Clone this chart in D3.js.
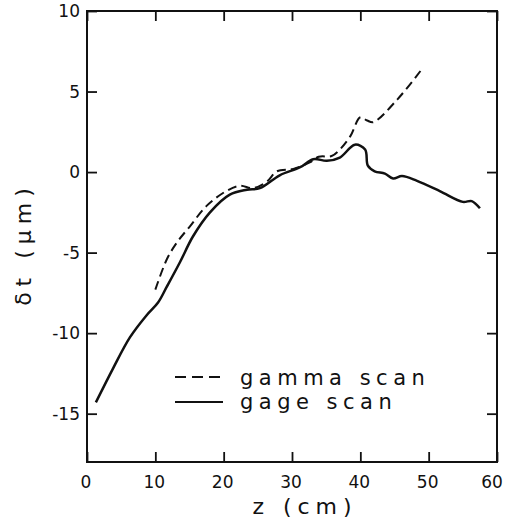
<!DOCTYPE html>
<html>
<head>
<meta charset="utf-8">
<script src="https://cdn.jsdelivr.net/npm/d3@7"></script>
<style>
body{margin:0;background:#fff;}
svg{display:block;}
.tick-label{font-family:"DejaVu Sans",sans-serif;font-size:17px;fill:#111;}
.axis-title{font-family:"DejaVu Sans",sans-serif;font-size:22px;fill:#111;letter-spacing:6px;}
.legend-text{font-family:"DejaVu Sans",sans-serif;font-size:21px;fill:#111;letter-spacing:5.5px;}
</style>
</head>
<body>
<div id="chart"></div>
<script>
// gage scan (solid)
var gageZ = [1.3,3.8,6.3,8.7,10.4,11.7,13.6,15.5,18.0,20.9,23.4,25.3,28.2,31.2,33.1,35.1,37.0,39.2,40.7,41.1,42.1,43.6,44.8,46.1,48.3,51.7,55.0,56.3,57.5];
var gageV = [-14.3,-12.2,-10.25,-8.9,-8.1,-7.1,-5.6,-4.0,-2.5,-1.4,-1.1,-1.0,-0.2,0.3,0.8,0.7,0.9,1.7,1.4,0.4,0.05,-0.1,-0.4,-0.25,-0.55,-1.2,-1.85,-1.8,-2.25];
// gamma scan (dashed)
var gammaZ = [10.0,11.7,13.2,15.1,17.5,20.5,22.4,24.3,26.3,27.8,30.2,32.6,33.9,35.8,37.0,38.5,40.0,41.0,41.9,45.4,49.2];
var gammaV = [-7.3,-5.4,-4.35,-3.35,-2.1,-1.15,-0.85,-1.0,-0.6,0.05,0.2,0.6,0.95,1.0,1.4,2.2,3.4,3.2,3.1,4.5,6.5];

var xTicks = [0,10,20,30,40,50,60];
var yTicks = [10,5,0,-5,-10,-15];

var W = 505, H = 518;
var plotL = 87, plotR = 497, plotT = 11, plotB = 462;
var tickLen = 10;

var svg = d3.select("#chart").append("svg")
  .attr("width", W)
  .attr("height", H);

var x = d3.scaleLinear().domain([0,60]).range([plotL,plotR]);
var y = d3.scaleLinear().domain([-18,10]).range([plotB,plotT]);

//frame
svg.append("rect")
  .attr("x", plotL).attr("y", plotT)
  .attr("width", plotR-plotL).attr("height", plotB-plotT)
  .style("fill","none").style("stroke","#111").style("stroke-width",2);

//axes with inward ticks on all four sides
var bottomAxis = d3.axisBottom(x).tickValues(xTicks).tickSize(-tickLen).tickFormat("");
var topAxis = d3.axisTop(x).tickValues(xTicks).tickSize(-tickLen).tickFormat("");
var leftAxis = d3.axisLeft(y).tickValues(yTicks).tickSize(-tickLen).tickFormat("");
var rightAxis = d3.axisRight(y).tickValues(yTicks).tickSize(-tickLen).tickFormat("");

function styleAxis(g){
  g.select(".domain").remove();
  g.selectAll(".tick line").style("stroke","#111").style("stroke-width",1.8);
}
svg.append("g").attr("transform","translate(0,"+plotB+")").call(bottomAxis).call(styleAxis);
svg.append("g").attr("transform","translate(0,"+plotT+")").call(topAxis).call(styleAxis);
svg.append("g").attr("transform","translate("+plotL+",0)").call(leftAxis).call(styleAxis);
svg.append("g").attr("transform","translate("+plotR+",0)").call(rightAxis).call(styleAxis);

//tick labels
svg.selectAll(".xlab")
  .data(xTicks)
  .enter()
  .append("text")
  .attr("class","tick-label")
  .attr("x", function(d,i){return x(d) - (i==xTicks.length-1 ? 5 : 1);})
  .attr("y", plotB+26)
  .attr("text-anchor","middle")
  .text(String);

svg.selectAll(".ylab")
  .data(yTicks)
  .enter()
  .append("text")
  .attr("class","tick-label")
  .attr("x", plotL-7)
  .attr("y", function(d){return y(d);})
  .attr("dy",".36em")
  .attr("text-anchor","end")
  .text(function(d){return d < 0 ? "-" + Math.abs(d) : String(d);});

//axis titles
svg.append("text")
  .attr("class","axis-title")
  .attr("x", 305)
  .attr("y", 514)
  .attr("text-anchor","middle")
  .text("z (cm)");

svg.append("text")
  .attr("class","axis-title")
  .attr("transform","translate(31,244) rotate(-90)")
  .attr("text-anchor","middle")
  .text("\u03b4t (\u03bcm)");

//curves
var line = d3.line()
  .x(function(d){return x(d[0]);})
  .y(function(d){return y(d[1]);})
  .curve(d3.curveCatmullRom.alpha(0.5));

var gage = gageZ.map(function(z,i){return [z,gageV[i]];});
var gamma = gammaZ.map(function(z,i){return [z,gammaV[i]];});

svg.append("path")
  .datum(gage)
  .attr("d", line)
  .style("fill","none").style("stroke","#111").style("stroke-width",2.5);

svg.append("path")
  .datum(gamma)
  .attr("d", line)
  .style("fill","none").style("stroke","#111").style("stroke-width",2)
  .style("stroke-dasharray","9,5");

//legend
var legend = [
  {label:"gamma scan", dash:"11,6", y:377, base:385},
  {label:"gage scan", dash:null, y:402, base:409}
];
legend.forEach(function(d){
  svg.append("line")
    .attr("x1",175).attr("x2",223)
    .attr("y1",d.y).attr("y2",d.y)
    .style("stroke","#111").style("stroke-width",2.2)
    .style("stroke-dasharray", d.dash);
  svg.append("text")
    .attr("class","legend-text")
    .attr("x",240)
    .attr("y",d.base)
    .text(d.label);
});
</script>
</body>
</html>
